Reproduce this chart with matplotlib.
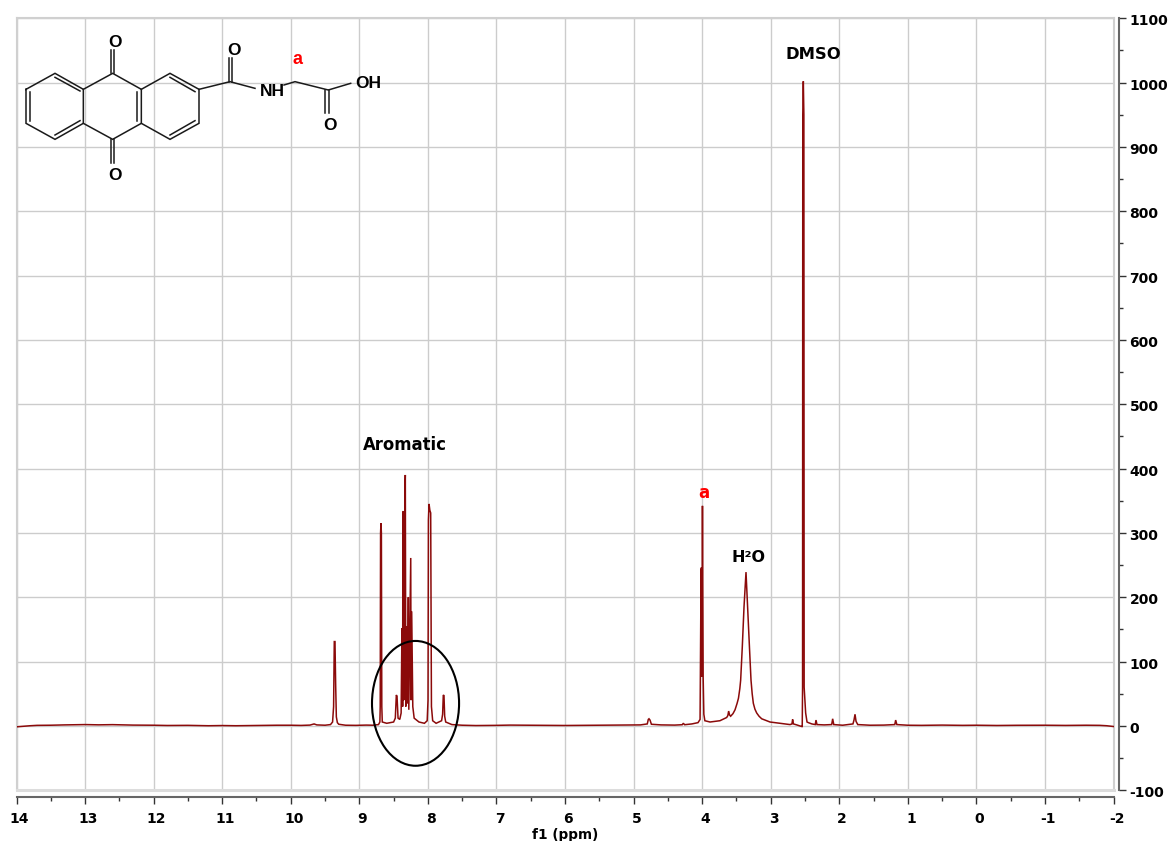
import matplotlib.pyplot as plt
plt.switch_backend('agg')
from matplotlib.patches import Ellipse
from matplotlib.ticker import MultipleLocator
from matplotlib.transforms import ScaledTranslation

# spectrum, (ppm, intensity) going left to right
ppm_low = [14.0, 13.9, 13.8, 13.7, 13.5, 13.3, 13.0, 12.8, 12.6, 12.3, 12.0, 11.8, 11.5, 11.2,
           11.0, 10.8, 10.5, 10.2, 10.0, 9.85, 9.72, 9.66, 9.62, 9.5, 9.42, 9.39, 9.375, 9.365, 9.355,
           9.345, 9.335, 9.32, 9.30, 9.2, 9.05, 8.9, 8.8]
int_low = [-1.5, -0.6, 0.2, 0.8, 1.0, 1.5, 2.0, 1.6, 1.9, 1.2, 1.0, 0.6, 0.8, 0.2,
           0.5, 0.2, 0.6, 1.0, 1.0, 0.7, 1.2, 3.0, 1.5, 1.0, 2.0, 6.0, 30.0, 131.0, 131.0,
           64.0, 14.0, 5.0, 2.5, 1.0, 0.8, 1.2, 1.0]

ppm_arom = [8.72, 8.70, 8.695, 8.69, 8.684, 8.678, 8.672, 8.665, 8.60, 8.50, 8.475, 8.46, 8.45, 8.435, 8.41,
            8.39, 8.378, 8.368, 8.365, 8.358, 8.35, 8.335, 8.329, 8.322, 8.304, 8.297, 8.285, 8.278, 8.25,
            8.245, 8.236, 8.22, 8.20, 8.13, 8.05, 8.01, 7.998, 7.992, 7.983, 7.971, 7.959, 7.948,
            7.93, 7.88, 7.80, 7.785, 7.775, 7.765, 7.755, 7.74, 7.65]
int_arom = [2.0, 6.0, 30.0, 300.0, 315.0, 300.0, 30.0, 6.0, 4.0, 6.0, 12.0, 48.0, 46.0, 12.0, 10.0,
            20.0, 152.0, 30.0, 325.0, 334.0, 40.0, 360.0, 390.0, 30.0, 155.0, 35.0, 200.0, 25.0, 261.0,
            40.0, 178.0, 30.0, 12.0, 6.0, 4.0, 8.0, 40.0, 320.0, 345.0, 335.0, 331.0, 30.0,
            8.0, 4.0, 8.0, 18.0, 48.0, 47.0, 15.0, 6.0, 2.0]

ppm_mid = [7.5, 7.3, 7.0, 6.8, 6.5, 6.2, 6.0, 5.7, 5.4, 5.1, 4.9, 4.8, 4.785, 4.775, 4.76, 4.74,
           4.6, 4.4, 4.29, 4.274, 4.255, 4.15, 4.06, 4.03, 4.015, 4.01, 4.003, 3.995, 3.985, 3.975,
           3.96, 3.885, 3.74, 3.642, 3.625, 3.613, 3.6, 3.584, 3.55, 3.52, 3.49, 3.47, 3.45, 3.438, 3.414, 3.389,
           3.36, 3.336, 3.31, 3.287, 3.27, 3.253, 3.23, 3.204, 3.17, 3.131, 3.01, 2.864, 2.718, 2.69, 2.68, 2.668,
           2.62, 2.548, 2.54, 2.535, 2.532, 2.524, 2.516, 2.512, 2.49, 2.47, 2.45, 2.40, 2.35, 2.339, 2.325, 2.22,
           2.11, 2.096, 2.08, 1.95, 1.80, 1.785, 1.77, 1.755, 1.73, 1.55, 1.35, 1.19, 1.177,
           1.16, 1.0, 0.8, 0.5, 0.2, 0.0, -0.3, -0.6, -1.0, -1.3, -1.6, -1.8, -1.9, -2.0]
int_mid = [1.0, 0.5, 0.8, 1.2, 1.0, 0.7, 0.6, 0.8, 1.0, 1.2, 1.5, 3.0, 10.0, 11.0, 9.0, 2.5,
           1.5, 1.2, 1.8, 4.0, 1.8, 3.0, 5.0, 10.0, 245.0, 245.0, 76.0, 342.0, 76.0, 18.0,
           8.0, 6.0, 8.0, 13.0, 16.0, 23.0, 17.0, 15.0, 19.0, 25.0, 35.0, 43.0, 58.0, 71.0, 123.0, 185.0,
           239.0, 185.0, 123.0, 71.0, 50.0, 35.0, 26.0, 20.0, 15.0, 11.0, 6.0, 4.0, 2.0, 3.0, 10.0, 3.0,
           1.5, -1.0, -1.0, 60.0, 950.0, 1002.0, 950.0, 60.0, 20.0, 6.0, 5.0, 3.0, 2.0, 9.0, 2.0, 1.5,
           2.0, 11.0, 2.0, 1.0, 3.0, 9.0, 18.0, 7.0, 2.0, 1.0, 1.2, 2.0, 9.0,
           2.0, 1.0, 0.8, 1.2, 0.8, 1.0, 0.6, 0.9, 1.0, 0.7, 1.0, 0.8, 0.2, -1.0]

ppm_all = ppm_low + ppm_arom + ppm_mid
int_all = int_low + int_arom + int_mid

x_ticks = list(range(14, -3, -1))
y_ticks = list(range(-100, 1101, 100))

# structure in pixel coordinates x3
bonds = [
    [(78, 268), (165, 220), (250, 268), (250, 370), (165, 418), (78, 370), (78, 268)],
    [(90, 275), (90, 362)], [(165, 232), (240, 273)], [(165, 405), (240, 362)],
    [(250, 268), (338, 220), (424, 268), (424, 370), (338, 418), (250, 370)],
    [(412, 275), (412, 362)],
    [(424, 268), (510, 220), (597, 268), (597, 370), (510, 418), (424, 370)],
    [(510, 232), (585, 275)], [(510, 405), (585, 362)],
    [(333, 220), (333, 150)], [(342, 220), (342, 150)],
    [(333, 418), (333, 490)], [(342, 418), (342, 490)],
    [(597, 268), (690, 245), (765, 265)],
    [(686, 245), (686, 175)], [(696, 245), (696, 175)],
    [(852, 255), (885, 245), (985, 270), (1052, 250)],
    [(976, 270), (976, 340)], [(988, 270), (988, 340)],
]
atoms = [("O", 346, 128), ("O", 346, 525), ("O", 702, 152), ("NH", 818, 276),
         ("OH", 1105, 250), ("O", 990, 376)]

fig = plt.figure(figsize=(11.68, 8.41), dpi=100)
ax = fig.add_axes([16.5 / 1168, 1 - 790.2 / 841, 1097 / 1168, 772 / 841])

ax.plot(ppm_all, int_all, color="#8b0a0a", linewidth=1.1, solid_joinstyle="miter", zorder=3)

ax.set_xlim(14, -2)
ax.set_ylim(-100, 1100)
ax.set_xticks(x_ticks)
ax.set_yticks(y_ticks)
ax.grid(True, color="#cccccc", linewidth=1.0)
ax.set_axisbelow(True)
ax.tick_params(left=False, bottom=False, labelleft=False, labelbottom=False)
for side in ax.spines:
    ax.spines[side].set_color("#d0d0d0")
    ax.spines[side].set_linewidth(1.5)
ax.spines["bottom"].set_color("#dcdcdc")
ax.spines["bottom"].set_linewidth(2.2)

# the scales sit a little outside the frame
secx = ax.secondary_xaxis("bottom")
secx.spines["bottom"].set_position(("outward", 5))
secx.spines["bottom"].set_color("#666666")
secx.spines["bottom"].set_linewidth(1.5)
secx.set_xticks(x_ticks)
secx.set_xticklabels([str(t) for t in x_ticks], fontweight="bold", fontsize=10)
secx.xaxis.set_minor_locator(MultipleLocator(0.5))
secx.tick_params(which="major", length=5, width=1, color="#333333", pad=6)
secx.tick_params(which="minor", length=3, width=1, color="#333333")
secx.set_xlabel("f1 (ppm)", fontweight="bold", fontsize=9.8, labelpad=1)
secx.xaxis.label.set_transform(secx.xaxis.label.get_transform())

secy = ax.secondary_yaxis("right")
secy.spines["right"].set_position(("outward", 4))
secy.spines["right"].set_color("#666666")
secy.spines["right"].set_linewidth(1.5)
secy.set_yticks(y_ticks)
secy.set_yticklabels([str(t) for t in y_ticks], fontweight="bold", fontsize=10)
secy.yaxis.set_minor_locator(MultipleLocator(50))
secy.tick_params(which="major", length=5, width=1, color="#333333", pad=2.5)
secy.tick_params(which="minor", length=3, width=1, color="#333333")

# labels sit slightly off their ticks in the original
for lab in secx.get_xticklabels():
    lab.set_transform(lab.get_transform() + ScaledTranslation(3 / 100, 0, fig.dpi_scale_trans))
for lab in secy.get_yticklabels():
    lab.set_transform(lab.get_transform() + ScaledTranslation(0, -1.5 / 100, fig.dpi_scale_trans))

ax.add_patch(Ellipse((8.18, 35), 1.27, 194, fill=False, edgecolor="black", linewidth=1.5, zorder=4))

ax.text(2.38, 1044, "DMSO", fontweight="bold", fontsize=11.8, ha="center", va="center")
ax.text(8.33, 437, "Aromatic", fontweight="bold", fontsize=11.9, ha="center", va="center")
ax.text(3.97, 362, "a", color="red", fontweight="bold", fontsize=12, ha="center", va="center")
ax.text(3.33, 261, "H²O", fontweight="bold", fontsize=11.5, ha="center", va="center")

# overlay for the molecule drawing
over = fig.add_axes([0, 0, 1, 1])
over.set_xlim(0, 1168 * 3)
over.set_ylim(841 * 3, 0)
over.axis("off")
over.patch.set_alpha(0)
for b in bonds:
    over.plot([p[0] for p in b], [p[1] for p in b], color="#1a1a1a", linewidth=1.1,
              solid_joinstyle="miter")
for label, x, y in atoms:
    over.text(x, y, label, family="Liberation Sans", fontweight="bold", fontsize=12.5,
              ha="center", va="center", color="black")
over.text(893, 180, "a", family="Liberation Sans", fontweight="bold", fontsize=13,
          ha="center", va="center", color="red")

fig.savefig("out.png", dpi=100)
